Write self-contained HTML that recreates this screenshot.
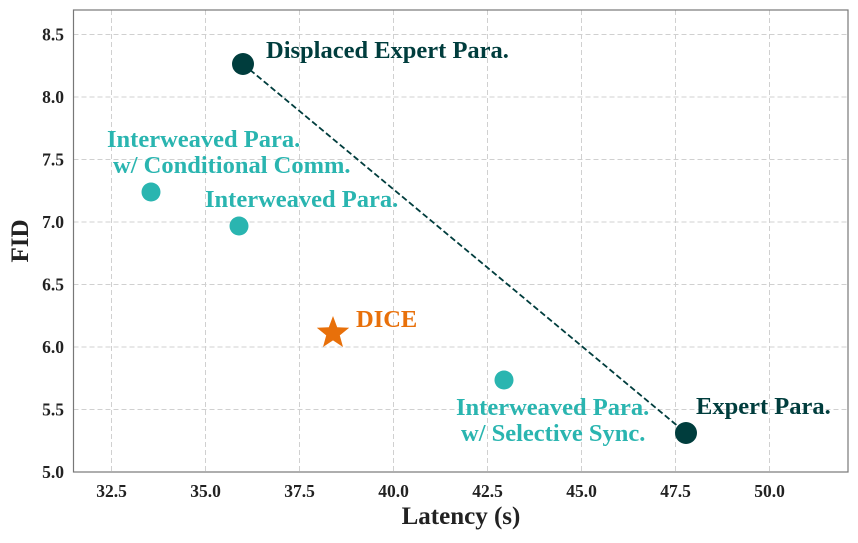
<!DOCTYPE html>
<html><head><style>body{margin:0;background:#fff}</style></head><body>
<svg width="858" height="538" xmlns="http://www.w3.org/2000/svg" font-family="Liberation Serif, serif" font-weight="bold">
<rect x="0" y="0" width="858" height="538" fill="#fff"/>
<g stroke="#d0d0d0" stroke-width="1" stroke-dasharray="5,3">
<line x1="111.5" y1="10" x2="111.5" y2="472"/><line x1="205.5" y1="10" x2="205.5" y2="472"/><line x1="299.5" y1="10" x2="299.5" y2="472"/><line x1="393.5" y1="10" x2="393.5" y2="472"/><line x1="487.5" y1="10" x2="487.5" y2="472"/><line x1="581.5" y1="10" x2="581.5" y2="472"/><line x1="675.5" y1="10" x2="675.5" y2="472"/><line x1="769.5" y1="10" x2="769.5" y2="472"/>
<line x1="73.5" y1="409.5" x2="848" y2="409.5"/><line x1="73.5" y1="347" x2="848" y2="347"/><line x1="73.5" y1="284.5" x2="848" y2="284.5"/><line x1="73.5" y1="222" x2="848" y2="222"/><line x1="73.5" y1="159.5" x2="848" y2="159.5"/><line x1="73.5" y1="97" x2="848" y2="97"/><line x1="73.5" y1="34.5" x2="848" y2="34.5"/>
</g>
<rect x="73.5" y="10" width="774.5" height="462" fill="none" stroke="#777" stroke-width="1.2"/>
<g font-size="17.5" fill="#222" text-anchor="middle">
<text x="111.5" y="497">32.5</text><text x="205.5" y="497">35.0</text><text x="299.5" y="497">37.5</text><text x="393.5" y="497">40.0</text><text x="487.5" y="497">42.5</text><text x="581.5" y="497">45.0</text><text x="675.5" y="497">47.5</text><text x="769.5" y="497">50.0</text>
</g>
<g font-size="17.5" fill="#222" text-anchor="end">
<text x="64" y="478">5.0</text><text x="64" y="415.5">5.5</text><text x="64" y="353">6.0</text><text x="64" y="290.5">6.5</text><text x="64" y="228">7.0</text><text x="64" y="165.5">7.5</text><text x="64" y="103">8.0</text><text x="64" y="40.5">8.5</text>
</g>
<text x="461" y="524" font-size="25" text-anchor="middle" fill="#222">Latency (s)</text>
<text transform="translate(28,241) rotate(-90)" font-size="25" text-anchor="middle" fill="#222">FID</text>
<line x1="243" y1="64" x2="686" y2="433" stroke="#003d3d" stroke-width="1.8" stroke-dasharray="6,3"/>
<circle cx="243" cy="64" r="11" fill="#003d3d"/>
<circle cx="686" cy="433" r="11" fill="#003d3d"/>
<circle cx="151" cy="192" r="9.5" fill="#2ab5b0"/>
<circle cx="239" cy="226" r="9.5" fill="#2ab5b0"/>
<circle cx="504" cy="380" r="9.5" fill="#2ab5b0"/>
<polygon points="333,316 337.2,327.2 349.2,327.8 339.8,335.4 343,347 333,340.4 323,347 326.2,335.4 316.8,327.8 328.8,327.2" fill="#e8700a"/>
<g font-size="24.5">
<text x="266" y="58" fill="#003d3d">Displaced Expert Para.</text>
<text x="696" y="414" fill="#003d3d">Expert Para.</text>
<text x="356" y="327" fill="#e8700a">DICE</text>
<g fill="#2ab5b0">
<text x="107" y="147">Interweaved Para.</text>
<text x="113" y="173">w/ Conditional Comm.</text>
<text x="205" y="207">Interweaved Para.</text>
<text x="456" y="415">Interweaved Para.</text>
<text x="461" y="441">w/ Selective Sync.</text>
</g>
</g>
</svg>
</body></html>
